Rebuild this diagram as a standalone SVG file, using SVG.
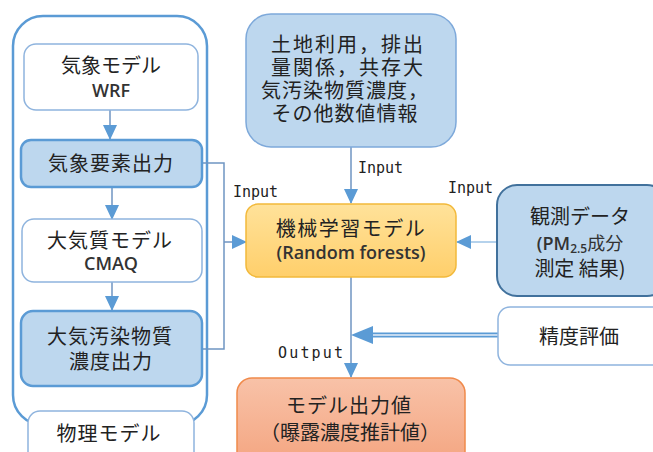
<svg xmlns="http://www.w3.org/2000/svg" width="653" height="452" viewBox="0 0 653 452">
<defs>
<style>
.jp{font-family:"Noto Sans CJK JP","Noto Sans",sans-serif;font-size:20px;fill:#222;text-anchor:middle}
.lat{font-family:"Open Sans","Noto Sans CJK JP",sans-serif;font-size:18px;font-weight:600;fill:#333;text-anchor:middle}
.lbl{font-family:"DejaVu Sans Mono","Liberation Mono",monospace;font-size:15px;fill:#222}
.wbox{fill:#fff;stroke:#8FB4DE;stroke-width:1.5}
.bbox{fill:#BDD7EE;stroke:#5B9BD5;stroke-width:2.5}
.ln{fill:none;stroke:#6F95C2;stroke-width:1.5}
</style>
<marker id="ah" markerWidth="15" markerHeight="14" refX="14" refY="7" orient="auto" markerUnits="userSpaceOnUse">
<path d="M0,0 L15,7 L0,14 Z" fill="#5B9BD5"/>
</marker>
<linearGradient id="gy" x1="0" y1="0" x2="0" y2="1"><stop offset="0" stop-color="#FFE29A"/><stop offset="1" stop-color="#FFCF6B"/></linearGradient>
<linearGradient id="go" x1="0" y1="0" x2="0" y2="1"><stop offset="0" stop-color="#F8C2A8"/><stop offset="1" stop-color="#F4A47F"/></linearGradient>
</defs>
<rect width="653" height="452" fill="#fff"/>

<g id="container">
<rect x="13" y="16" width="194" height="409" rx="30" fill="#fff" stroke="#5B9BD5" stroke-width="2.5"/>
</g>

<g id="connectors">
<line class="ln" x1="110" y1="110" x2="110" y2="139" marker-end="url(#ah)"/>
<line class="ln" x1="112" y1="187" x2="112" y2="219" marker-end="url(#ah)"/>
<line class="ln" x1="112" y1="282" x2="112" y2="310" marker-end="url(#ah)"/>
<polyline class="ln" points="202,163 224,163 224,349 202,349"/>
<line class="ln" x1="224" y1="242" x2="246" y2="242" marker-end="url(#ah)"/>
<line class="ln" x1="351" y1="147" x2="351" y2="203" marker-end="url(#ah)"/>
<line x1="497" y1="242" x2="457" y2="242" stroke="#9DC3E6" stroke-width="1.5" marker-end="url(#ah)"/>
<line class="ln" x1="351" y1="277" x2="351" y2="377" marker-end="url(#ah)"/>
<line x1="498" y1="335" x2="370" y2="335" stroke="#5B9BD5" stroke-width="5"/>
<line x1="498" y1="335" x2="370" y2="335" stroke="#E6EEF7" stroke-width="1.5"/>
<path d="M351,335 L373,326 L373,344 Z" fill="#5B9BD5"/>
</g>

<g id="labels">
<text class="lbl" x="233" y="197">Input</text>
<text class="lbl" x="358" y="173">Input</text>
<text class="lbl" x="448" y="193">Input</text>
<text class="lbl" x="278" y="358" textLength="65">Output</text>
</g>

<g id="wrf">
<rect class="wbox" x="24" y="44" width="174" height="66" rx="12"/>
<text class="jp" x="111" y="73">気象モデル</text>
<text class="lat" x="111" y="97" font-size="19">WRF</text>
</g>

<g id="met-out">
<rect class="bbox" x="21" y="140" width="181" height="47" rx="10"/>
<text class="jp" x="111" y="171" font-size="21" letter-spacing="1">気象要素出力</text>
</g>

<g id="cmaq">
<rect class="wbox" x="22" y="219" width="180" height="63" rx="12"/>
<text class="jp" x="110" y="248" letter-spacing="1">大気質モデル</text>
<text class="lat" x="111" y="270" font-size="19">CMAQ</text>
</g>

<g id="conc-out">
<rect class="bbox" x="21" y="311" width="181" height="75" rx="12"/>
<text class="jp" x="110" y="344" font-size="21" letter-spacing="1">大気汚染物質</text>
<text class="jp" x="111" y="369" font-size="21" letter-spacing="1">濃度出力</text>
</g>

<g id="physical">
<rect class="wbox" x="28" y="411" width="166" height="60" rx="12"/>
<text class="jp" x="109" y="441" letter-spacing="1">物理モデル</text>
</g>

<g id="landuse">
<rect x="246" y="14" width="210" height="133" rx="25" fill="#BDD7EE" stroke="#7EA9DA" stroke-width="1.5"/>
<text class="jp" x="348" y="52" font-size="19" letter-spacing="2">土地利用，排出</text>
<text class="jp" x="348" y="75" font-size="19" letter-spacing="2">量関係，共存大</text>
<text class="jp" x="345" y="98" font-size="19" letter-spacing="1">気汚染物質濃度，</text>
<text class="jp" x="345" y="121" font-size="19" letter-spacing="1">その他数値情報</text>
</g>

<g id="ml">
<rect x="246" y="204" width="210" height="73" rx="12" fill="url(#gy)" stroke="#F2B93B" stroke-width="1.5"/>
<text class="jp" x="351" y="236" letter-spacing="1.5">機械学習モデル</text>
<text class="lat" x="351" y="259">(Random forests)</text>
</g>

<g id="obs">
<rect x="497" y="185" width="170" height="111" rx="20" fill="#BDD7EE" stroke="#41719C" stroke-width="2"/>
<text class="jp" x="580" y="224">観測データ</text>
<text class="lat" x="580" y="250" font-size="19">(PM<tspan font-size="12" dy="3">2.5</tspan><tspan dy="-3" font-weight="400" font-family="Noto Sans CJK JP">成分</tspan></text>
<text class="jp" x="580" y="276">測定 結果)</text>
</g>

<g id="accuracy">
<rect x="498" y="307" width="170" height="58" rx="12" fill="#fff" stroke="#8FB4DE" stroke-width="1.5"/>
<text class="jp" x="579" y="344">精度評価</text>
</g>

<g id="output">
<rect x="237" y="378" width="228" height="90" rx="15" fill="url(#go)" stroke="#F08A4B" stroke-width="1.5"/>
<text class="jp" x="349" y="413" letter-spacing="1">モデル出力値</text>
<text class="jp" x="350" y="440">（曝露濃度推計値）</text>
</g>
</svg>
